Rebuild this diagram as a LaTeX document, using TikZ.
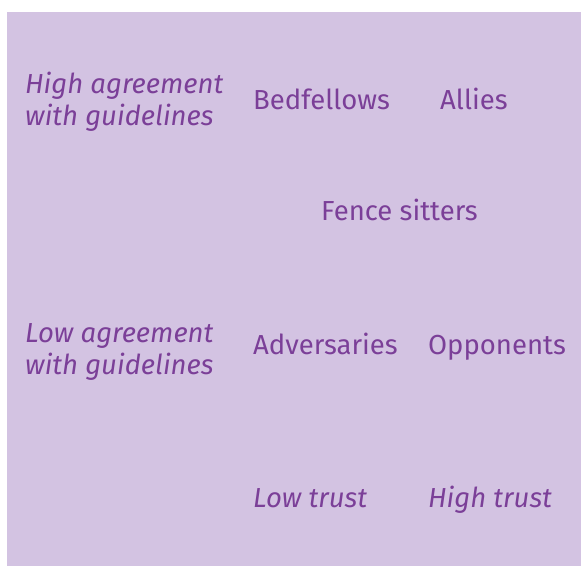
\documentclass[tikz,border=0pt]{standalone}
\usepackage{fontspec}
\setmainfont{Fira Sans}
\usetikzlibrary{positioning}
\definecolor{lavender}{HTML}{D3C3E2}
\definecolor{plum}{HTML}{7B3F98}

\begin{document}
\begin{tikzpicture}[
  x=1pt,y=-1pt,
  group/.style={anchor=base west,inner sep=0pt,text=plum,font=\fontsize{27.5}{32}\selectfont},
  axis/.style={group,align=left,font=\fontsize{27.5}{32}\selectfont\itshape}
]
\useasboundingbox (0,0) rectangle (581,566);
\fill[lavender] (7,12) rectangle (581,566);
% row labels
\node[axis] (high) at (25,125) {High agreement\\with guidelines};
\node[axis] (low) at (25,374) {Low agreement\\with guidelines};
% groups
\node[group] (bedfellows) at (253,109) {Bedfellows};
\node[group] (allies) at (440,109) {Allies};
\node[group] (fence) at (321,220) {Fence sitters};
\node[group] (adversaries) at (253,354) {Adversaries};
\node[group] (opponents) at (428,354) {Opponents};
% column labels
\node[axis] (lowtrust) at (253,507) {Low trust};
\node[axis] (hightrust) at (428,507) {High trust};
\end{tikzpicture}
\end{document}
